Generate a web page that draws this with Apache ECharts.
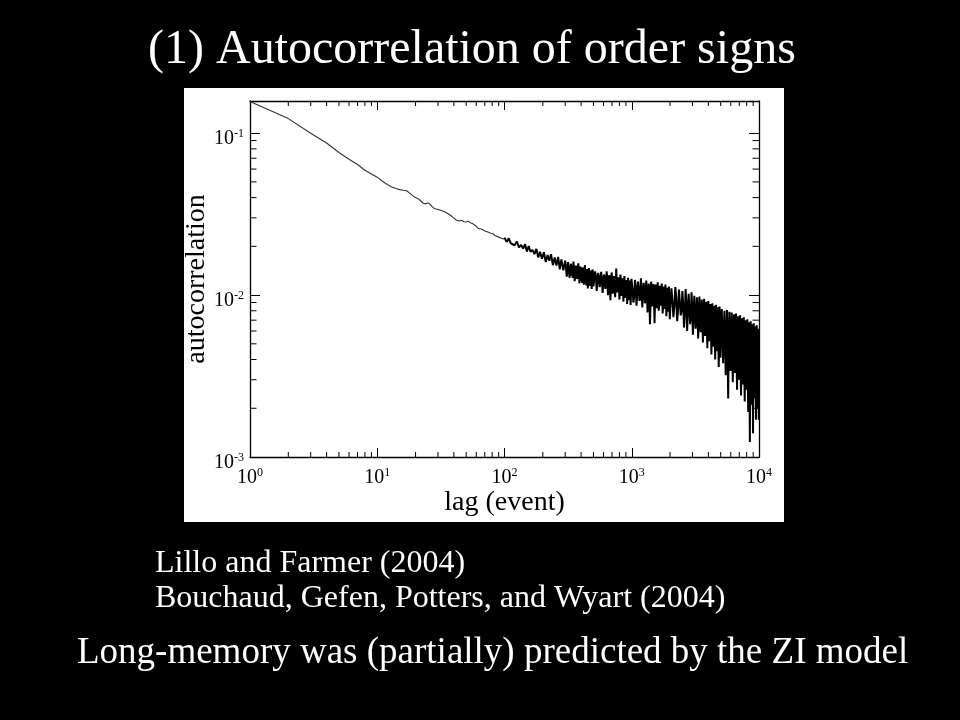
<!DOCTYPE html>
<html><head><meta charset="utf-8">
<script src="https://cdn.jsdelivr.net/npm/echarts@6/dist/echarts.min.js"></script>
<style>html,body{margin:0;padding:0;background:#000}#c{width:960px;height:720px}</style>
</head><body><div id="c"></div>
<script>
// ---- data: [lag, autocorrelation] ----
const smoothPart = [[1,0.157],[2,0.123],[3,0.100],[4,0.087],[5,0.076],[6,0.069],[7,0.064],[8,0.059],[9,0.056],[10,0.0535],
[11,0.0505],[12,0.0482],[13,0.0465],[14,0.0455],[15,0.0448],[16,0.0444],[17,0.0441],[18,0.0426],[19,0.0411],[20,0.0400],
[21,0.0394],[22,0.0381],[23,0.0369],[24,0.0366],[25,0.0371],[26,0.0364],[27,0.0352],[28,0.0343],[29,0.0341],[30,0.0338],
[31,0.0335],[32,0.0333],[33,0.0329],[34,0.0326],[35,0.0321],[36,0.0318],[38,0.0309],[40,0.0299],[42,0.0290],[44,0.0287],
[46,0.0290],[48,0.0284],[50,0.0283],[52,0.0286],[54,0.0279],[56,0.0277],[58,0.0276],[60,0.0266],[62,0.0258],[64,0.0254],
[66,0.0256],[68,0.0250],[70,0.0249],[72,0.0246],[75,0.0244],[78,0.0241],[81,0.0240],[84,0.0233],[87,0.0231],[90,0.0228],
[94,0.0225],[98,0.0222]];
const midPart = [[100,0.0226],[104,0.0213],[108,0.0224],[112,0.0209],[116,0.0212],[120,0.0203],[125,0.0214],[130,0.0197],
[135,0.0204],[140,0.0194],[145,0.0206],[150,0.0186],[155,0.0201],[160,0.0185],[166,0.0190],[172,0.0179],[178,0.0193],
[184,0.0171],[190,0.0185],[197,0.0168],[204,0.0184],[211,0.0160],[218,0.0177],[225,0.0163],[232,0.0179],[240,0.0153],
[248,0.0171],[256,0.0152],[264,0.0172],[272,0.0144],[280,0.0166],[290,0.0142],[300,0.0163]];
const noisyPart = [
[308,0.0130],[316,0.0160],[324,0.0128],[332,0.0156],[340,0.0133],[348,0.0161],[356,0.0122],[364,0.0152],[372,0.0126],[380,0.0157],
[388,0.0118],[396,0.0150],[404,0.0124],[412,0.0148],[420,0.0116],[428,0.0153],[436,0.0121],[444,0.0145],[452,0.0110],[460,0.0147],
[468,0.0119],[476,0.0142],[484,0.0109],[492,0.0144],[500,0.0113],
[515,0.0140],[530,0.0106],[545,0.0137],[560,0.0112],[575,0.0139],[590,0.0103],[605,0.0134],[620,0.0109],[635,0.0140],[650,0.0100],
[665,0.0133],[680,0.0093],[695,0.0138],[710,0.0102],[725,0.0131],[740,0.0097],[755,0.0146],[770,0.0104],[785,0.0129],[800,0.0094],
[815,0.0134],[830,0.0099],[845,0.0127],[860,0.0091],[875,0.0131],[890,0.0096],[905,0.0124],[920,0.0088],[935,0.0128],[950,0.0093],
[965,0.0123],[980,0.0087],[995,0.0126],
[1030,0.0090],[1060,0.0124],[1090,0.0086],[1120,0.0121],[1150,0.0092],[1180,0.0127],[1210,0.0084],[1240,0.0119],[1270,0.0089],
[1300,0.0123],[1330,0.0078],[1360,0.0118],[1390,0.0066],[1420,0.0121],[1450,0.0085],[1480,0.0117],[1510,0.0067],[1540,0.0116],
[1570,0.0083],[1600,0.0120],[1630,0.0080],[1660,0.0114],[1690,0.0086],[1720,0.0118],[1750,0.0077],[1780,0.0113],[1810,0.0082],
[1840,0.0116],[1870,0.0074],[1900,0.0111],[1930,0.0079],[1960,0.0113],[1990,0.0071],
[2050,0.0110],[2125,0.0073],[2200,0.0112],[2275,0.0069],[2350,0.0108],[2425,0.0075],[2500,0.0106],[2575,0.0063],[2650,0.0109],
[2725,0.0060],[2800,0.0102],[2875,0.0066],[2950,0.0104],[3025,0.0057],[3100,0.0099],[3175,0.0062],[3250,0.0097],[3325,0.0054],
[3400,0.0098],[3475,0.0059],[3550,0.0094],[3625,0.0051],[3700,0.0095],[3775,0.0056],[3850,0.0091],[3925,0.0047],[4000,0.0092],
[4075,0.0052],[4150,0.0088],[4225,0.0043],[4300,0.0089],[4375,0.0048],[4450,0.0086],[4525,0.0040],[4600,0.0087],[4675,0.0045],
[4750,0.0084],[4825,0.0036],[4900,0.0085],[4975,0.0041],
[5100,0.0082],[5225,0.0038],[5350,0.0080],[5475,0.0032],[5600,0.0081],[5725,0.0023],[5850,0.0079],[5975,0.0034],[6100,0.0078],
[6225,0.0029],[6350,0.0076],[6475,0.0033],[6600,0.0077],[6725,0.0026],[6850,0.0074],[6975,0.0030],[7100,0.0075],[7225,0.0024],
[7350,0.0072],[7475,0.0028],[7600,0.0073],[7725,0.0022],[7850,0.0070],[7975,0.0026],[8100,0.0071],[8225,0.0019],[8350,0.0068],
[8475,0.00124],[8600,0.0069],[8725,0.0021],[8850,0.0066],[8975,0.0014],[9100,0.0067],[9225,0.0023],[9350,0.0064],[9475,0.0017],
[9600,0.0065],[9725,0.0020],[9850,0.0062],[9975,0.0017],[10000,0.0040]];
const noisyPartExtra = [
[304,0.0150],[312,0.0138],[320,0.0147],[328,0.0135],[336,0.0149],[344,0.0128],[352,0.0145],[360,0.0131],[368,0.0148],[376,0.0124],
[384,0.0143],[392,0.0129],[400,0.0137],[408,0.0119],[416,0.0141],[424,0.0127],[432,0.0139],[440,0.0115],[448,0.0134],[456,0.0125],
[464,0.0138],[472,0.0114],[480,0.0131],[488,0.0122],[496,0.0136],
[507,0.0125],[522,0.0133],[537,0.0118],[552,0.0130],[567,0.0121],[582,0.0127],[597,0.0115],[612,0.0128],[627,0.0119],[642,0.0126],
[657,0.0110],[672,0.0124],[687,0.0116],[702,0.0122],[717,0.0108],[732,0.0125],[747,0.0112],[762,0.0120],[777,0.0109],[792,0.0118],
[807,0.0113],[822,0.0121],[837,0.0104],[852,0.0117],[867,0.0110],[882,0.0115],[897,0.0101],[912,0.0114],[927,0.0107],[942,0.0118],
[957,0.0100],[972,0.0112],[987,0.0104],
[1015,0.0108],[1045,0.0097],[1075,0.0113],[1105,0.0102],[1135,0.0110],[1165,0.0095],[1195,0.0108],[1225,0.0100],[1255,0.0112],
[1285,0.0093],[1315,0.0106],[1345,0.0098],[1375,0.0104],[1405,0.0090],[1435,0.0107],[1465,0.0096],[1495,0.0101],[1525,0.0092],
[1555,0.0105],[1585,0.0097],[1615,0.0100],[1645,0.0088],[1675,0.0102],[1705,0.0094],[1735,0.0099],[1765,0.0087],[1795,0.0097],
[1825,0.0091],[1855,0.0098],[1885,0.0085],[1915,0.0094],[1945,0.0089],[1975,0.0095],
[2020,0.0090],[2087,0.0093],[2162,0.0085],[2237,0.0096],[2312,0.0082],[2387,0.0091],[2462,0.0080],[2537,0.0088],[2612,0.0076],
[2687,0.0090],[2762,0.0079],[2837,0.0084],[2912,0.0072],[2987,0.0083],[3062,0.0075],[3137,0.0081],[3212,0.0068],[3287,0.0079],
[3362,0.0071],[3437,0.0077],[3512,0.0064],[3587,0.0075],[3662,0.0067],[3737,0.0073],[3812,0.0061],[3887,0.0070],[3962,0.0064],
[4037,0.0068],[4112,0.0057],[4187,0.0066],[4262,0.0060],[4337,0.0064],[4412,0.0053],[4487,0.0063],[4562,0.0056],[4637,0.0061],
[4712,0.0050],[4787,0.0059],[4862,0.0052],[4937,0.0058],
[5037,0.0060],[5162,0.0056],[5287,0.0062],[5412,0.0050],[5537,0.0058],[5662,0.0047],[5787,0.0057],[5912,0.0052],[6037,0.0055],
[6162,0.0044],[6287,0.0053],[6412,0.0048],[6537,0.0052],[6662,0.0040],[6787,0.0050],[6912,0.0045],[7037,0.0049],[7162,0.0037],
[7287,0.0047],[7412,0.0042],[7537,0.0046],[7662,0.0033],[7787,0.0044],[7912,0.0039],[8037,0.0043],[8162,0.0030],[8287,0.0041],
[8412,0.0035],[8537,0.0040],[8662,0.0027],[8787,0.0038],[8912,0.0031],[9037,0.0037],[9162,0.0025],[9287,0.0036],[9412,0.0029],
[9537,0.0034],[9662,0.0024],[9787,0.0033],[9912,0.0028]];

// axis extents and tick positions
const xRange = [1, 10000];
const yRange = [0.001, 0.158];
const xMinorTicks = [2,3,4,5,6,7,8,9,20,30,40,50,60,70,80,90,200,300,400,500,600,700,800,900,2000,3000,4000,5000,6000,7000,8000,9000];
const yMinorTicks = [0.002,0.003,0.004,0.005,0.006,0.007,0.008,0.009,0.02,0.03,0.04,0.05,0.06,0.07,0.08,0.09];

// texts
const titleText = '(1) Autocorrelation of order signs';
const xName = 'lag (event)';
const yName = 'autocorrelation';
const refLine1 = 'Lillo and Farmer (2004)';
const refLine2 = 'Bouchaud, Gefen, Potters, and Wyart (2004)';
const bottomLine = 'Long-memory was (partially) predicted by the ZI model';

const SERIF = 'Liberation Serif';
const smoothSeries = smoothPart.concat([midPart[0]]);
const noisySeries = midPart.concat(noisyPart, noisyPartExtra).sort((a, b) => a[0] - b[0]);

function powLabel(v) {
  const e = Math.log10(v), r = Math.round(e);
  if (Math.abs(e - r) > 1e-6) return '';
  return '{b|10}{e|' + r + '}';
}
const rich = {
  b: {fontSize: 20, fontFamily: SERIF, color: '#000', lineHeight: 22},
  e: {fontSize: 12, fontFamily: SERIF, color: '#000', verticalAlign: 'top', lineHeight: 12}
};
const axisLineStyle = {show: true, lineStyle: {color: '#000', width: 1.3}};
const whiteText = (size) => ({color: '#fff', fontFamily: SERIF, fontSize: size, fontWeight: 'normal'});

const chart = echarts.init(document.getElementById('c'), null, {renderer: 'canvas'});
chart.setOption({
  backgroundColor: '#000',
  animation: false,
  textStyle: {fontFamily: SERIF},
  graphic: [{type: 'rect', left: 184, top: 88, z: -100, shape: {width: 600, height: 434}, style: {fill: '#fff'}}],
  title: [
    {text: titleText, left: 148, top: 26, padding: 0, textStyle: whiteText(48)},
    {text: refLine1, left: 155, top: 548, padding: 0, textStyle: whiteText(32)},
    {text: refLine2, left: 155, top: 583, padding: 0, textStyle: whiteText(32)},
    {text: bottomLine, left: 77, top: 635, padding: 0, textStyle: whiteText(37)}
  ],
  grid: {left: 250, top: 101, width: 509, height: 356, containLabel: false},
  xAxis: [
    {type: 'log', logBase: 10, min: xRange[0], max: xRange[1], position: 'bottom',
     name: xName, nameLocation: 'middle', nameGap: 31,
     nameTextStyle: {fontFamily: SERIF, fontSize: 28, color: '#000'},
     axisLine: axisLineStyle, axisTick: {inside: true, length: 9, lineStyle: {color: '#000'}},
     axisLabel: {formatter: powLabel, rich: rich, margin: 10},
     splitLine: {show: false}},
    {type: 'log', logBase: 10, min: xRange[0], max: xRange[1], position: 'top',
     axisLine: axisLineStyle, axisTick: {inside: true, length: 9, lineStyle: {color: '#000'}},
     axisLabel: {show: false}, splitLine: {show: false}}
  ],
  yAxis: [
    {type: 'log', logBase: 10, min: yRange[0], max: yRange[1], position: 'left',
     name: yName, nameLocation: 'middle', nameGap: 39, nameMoveOverlap: false,
     nameTextStyle: {fontFamily: SERIF, fontSize: 28, color: '#000'},
     axisLine: axisLineStyle, axisTick: {inside: true, length: 10, lineStyle: {color: '#000'}},
     axisLabel: {formatter: powLabel, rich: rich, margin: 6, padding: [12, 0, 0, 0], showMaxLabel: false},
     splitLine: {show: false}},
    {type: 'log', logBase: 10, min: yRange[0], max: yRange[1], position: 'right',
     axisLine: axisLineStyle, axisTick: {inside: true, length: 10, lineStyle: {color: '#000'}},
     axisLabel: {show: false}, splitLine: {show: false}}
  ],
  series: [
    {type: 'line', xAxisIndex: 0, yAxisIndex: 0, data: smoothSeries, showSymbol: false, symbol: 'none',
     lineStyle: {color: '#333', width: 1.1}, silent: true, z: 3},
    {type: 'line', xAxisIndex: 0, yAxisIndex: 0, data: noisySeries, showSymbol: false, symbol: 'none',
     lineStyle: {color: '#000', width: 2, join: 'bevel'}, silent: true, z: 3},
    {type: 'custom', xAxisIndex: 0, yAxisIndex: 0, silent: true, z: 4,
     data: xMinorTicks.map(v => [v, yRange[0]]),
     renderItem: function (params, api) {
       const cs = params.coordSys;
       const x = api.coord([api.value(0), yRange[0]])[0];
       const b = cs.y + cs.height, t = cs.y;
       return {type: 'group', children: [
         {type: 'line', shape: {x1: x, y1: b, x2: x, y2: b - 5}, style: {stroke: '#000', lineWidth: 1}},
         {type: 'line', shape: {x1: x, y1: t, x2: x, y2: t + 5}, style: {stroke: '#000', lineWidth: 1}}
       ]};
     }},
    {type: 'custom', xAxisIndex: 0, yAxisIndex: 0, silent: true, z: 4,
     data: yMinorTicks.map(v => [xRange[0], v]),
     renderItem: function (params, api) {
       const cs = params.coordSys;
       const y = api.coord([xRange[0], api.value(1)])[1];
       const l = cs.x, r = cs.x + cs.width;
       return {type: 'group', children: [
         {type: 'line', shape: {x1: l, y1: y, x2: l + 6.5, y2: y}, style: {stroke: '#000', lineWidth: 1}},
         {type: 'line', shape: {x1: r, y1: y, x2: r - 6.5, y2: y}, style: {stroke: '#000', lineWidth: 1}}
       ]};
     }}
  ]
});
</script>
</body></html>
